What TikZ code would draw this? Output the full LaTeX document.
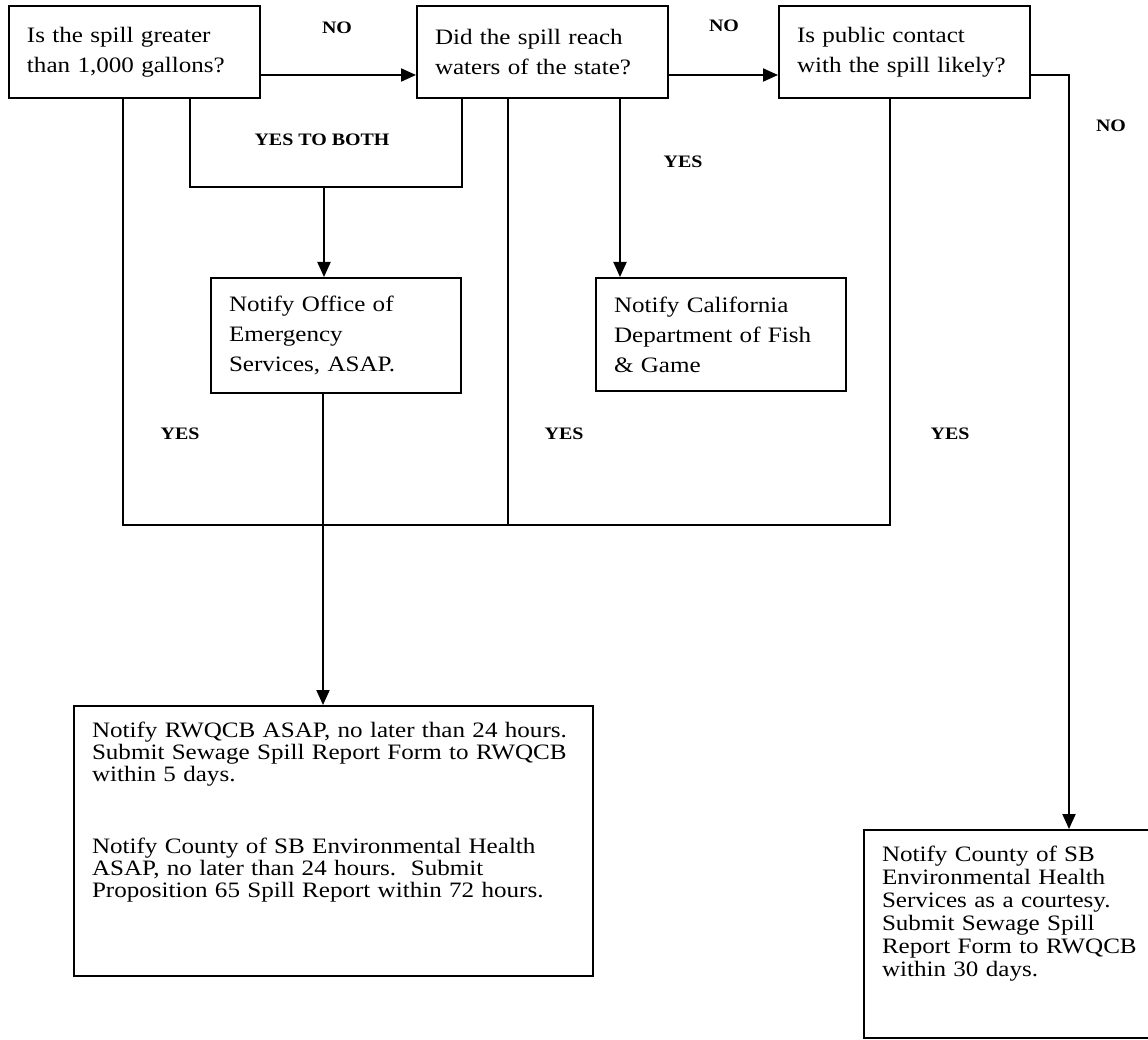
\documentclass[tikz,border=0pt]{standalone}
\usepackage{fontspec}
\setmainfont{Liberation Serif}[FakeStretch=1.14]
\usetikzlibrary{arrows.meta}

\tikzstyle{query}=[draw, line width=2pt, anchor=north west, align=left,
inner xsep=18pt, inner ysep=6pt, text width=215pt, minimum height=92pt,
font=\fontsize{22}{30}\selectfont]
\tikzstyle{notice}=[query, minimum height=0pt, inner ysep=16pt,
font=\fontsize{22}{22}\selectfont]
\tikzstyle{answer}=[inner sep=0pt, font=\fontsize{17.5}{20}\selectfont\bfseries]
\tikzstyle{wire}=[line width=2pt]
\tikzstyle{flow}=[wire, -{Triangle[length=15pt,width=13pt]}]

\begin{document}
\begin{tikzpicture}[x=1pt, y=-1pt]
	\useasboundingbox (0,0) rectangle (1148,1040);
	\node[query] (q1) at (8,5) {Is the spill greater\\than 1,000 gallons?};
	\node[query] (q2) at (416,5) {Did the spill reach\\waters of the state?};
	\node[query] (q3) at (778,5) {Is public contact\\with the spill likely?};
	\node[query, text width=214pt, minimum height=115pt] (oes) at (210,277)
	{Notify Office of\\Emergency\\Services, ASAP.};
	\node[query, text width=214pt, minimum height=113pt] (dfg) at (595,277)
	{Notify California\\Department of Fish\\\& Game};
	\node[notice, text width=483pt, text depth=223pt] (rwqcb) at (73,705)
	{Notify RWQCB ASAP, no later than 24 hours.\\
		Submit Sewage Spill Report Form to RWQCB\\
		within 5 days.\\[50pt]
		Notify County of SB Environmental Health\\
		ASAP, no later than 24 hours.\ \ Submit\\
		Proposition 65 Spill Report within 72 hours.};
	\node[notice, text width=270pt, text depth=161pt,
	font=\fontsize{22}{23}\selectfont] (ehs) at (863,829)
	{Notify County of SB\\Environmental Health\\Services as a courtesy.\\
		Submit Sewage Spill\\Report Form to RWQCB\\within 30 days.};
	
	\coordinate (bl) at (190,187);
	\coordinate (br) at (462,187);
	\coordinate (both) at (324,187);
	\coordinate (fish) at (620,187);
	\coordinate (yl) at (123,525);
	\coordinate (ym) at (508,525);
	\coordinate (yr) at (890,525);
	\coordinate (drop) at (323,525);
	\coordinate (turn) at (1069,75);
	
	\draw[flow] ([yshift=-23pt]q1.east) -- ([yshift=-23pt]q2.west);
	\draw[flow] ([yshift=-23pt]q2.east) -- ([yshift=-23pt]q3.west);
	\draw[flow] (q3.east |- turn) -- (turn) -- (turn |- ehs.north);
	\draw[wire] (bl |- q1.south) -- (bl) -- (br) -- (br |- q2.south);
	\draw[flow] (both) -- (both |- oes.north);
	\draw[flow] (fish |- q2.south) -- (fish |- dfg.north);
	\draw[wire] (yl |- q1.south) -- (yl) -- (yr) -- (yr |- q3.south);
	\draw[wire] (ym |- q2.south) -- (ym);
	\draw[flow] (drop |- oes.south) -- (drop |- rwqcb.north);
	
	\node[answer] (no1) at (337,27.5) {NO};
	\node[answer] (no2) at (724,26) {NO};
	\node[answer] (no3) at (1111,126) {NO};
	\node[answer] (yesboth) at (322,140) {YES TO BOTH};
	\node[answer] (yes1) at (683,161.5) {YES};
	\node[answer] (yes2) at (180,433.5) {YES};
	\node[answer] (yes3) at (564,433.5) {YES};
	\node[answer] (yes4) at (950,433.5) {YES};
\end{tikzpicture}
\end{document}
